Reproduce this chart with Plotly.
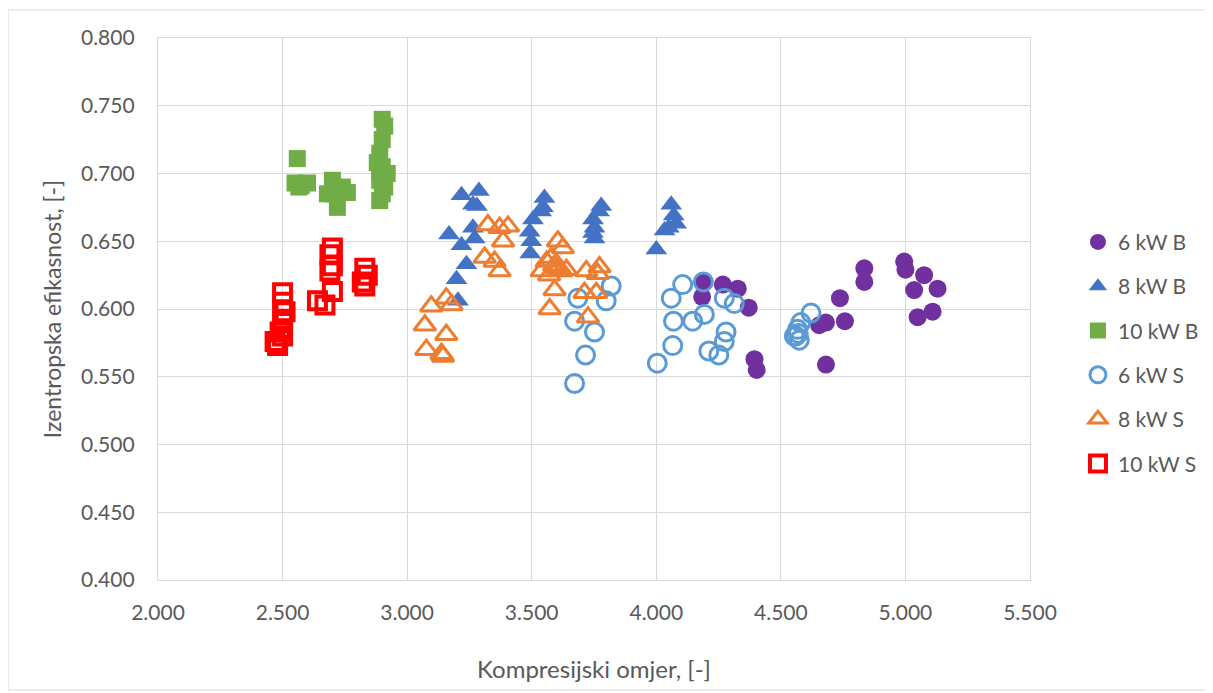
import plotly.graph_objects as go

# ---- data ----
b6_x = [4.184, 4.190, 4.267, 4.327, 4.371, 4.394, 4.403, 4.654, 4.681, 4.757, 4.737, 4.835, 4.835, 4.681,
        4.995, 5.000, 5.075, 5.035, 5.129, 5.049, 5.109]
b6_y = [0.609, 0.620, 0.618, 0.615, 0.601, 0.563, 0.555, 0.588, 0.590, 0.591, 0.608, 0.620, 0.630, 0.559,
        0.635, 0.629, 0.625, 0.614, 0.615, 0.594, 0.598]

b8_x = [3.218, 3.288, 3.264, 3.280, 3.168, 3.264, 3.271, 3.218, 3.238, 3.198, 3.204,
        3.551, 3.538, 3.505, 3.492, 3.498, 3.494, 3.545,
        3.779, 3.746, 3.752, 3.752, 3.746, 3.770,
        4.060, 4.070, 4.033, 4.080, 4.050, 4.000]
b8_y = [0.684, 0.687, 0.677, 0.676, 0.655, 0.660, 0.652, 0.647, 0.633, 0.622, 0.606,
        0.682, 0.672, 0.666, 0.657, 0.650, 0.641, 0.675,
        0.676, 0.666, 0.660, 0.652, 0.656, 0.672,
        0.677, 0.669, 0.658, 0.663, 0.660, 0.644]

b10_x = [2.559, 2.550, 2.575, 2.600, 2.565, 2.700, 2.740, 2.700, 2.720, 2.760, 2.680,
         2.900, 2.910, 2.900, 2.890, 2.900, 2.890, 2.920, 2.890, 2.910, 2.900, 2.890, 2.880]
b10_y = [0.711, 0.693, 0.691, 0.693, 0.690, 0.695, 0.690, 0.685, 0.675, 0.686, 0.685,
         0.740, 0.735, 0.725, 0.715, 0.705, 0.700, 0.700, 0.695, 0.690, 0.685, 0.680, 0.708]

s6_x = [3.819, 3.685, 3.799, 3.672, 3.752, 3.716, 3.672,
        4.106, 4.060, 4.189, 4.273, 4.313, 4.069, 4.146, 4.193, 4.280, 4.273, 4.066, 4.211, 4.251, 4.004,
        4.621, 4.580, 4.567, 4.554, 4.574, 4.570, 4.560]
s6_y = [0.617, 0.608, 0.606, 0.591, 0.583, 0.566, 0.545,
        0.618, 0.608, 0.620, 0.608, 0.604, 0.591, 0.591, 0.596, 0.583, 0.576, 0.573, 0.569, 0.566, 0.560,
        0.597, 0.590, 0.585, 0.580, 0.577, 0.582, 0.580]

s8_x = [3.324, 3.371, 3.405, 3.385, 3.311, 3.351, 3.371,
        3.605, 3.625, 3.540, 3.560, 3.580, 3.590, 3.600, 3.570, 3.620, 3.639, 3.592, 3.572,
        3.719, 3.772, 3.765, 3.712, 3.759, 3.726,
        3.097, 3.157, 3.178, 3.071, 3.157, 3.077, 3.138, 3.144]
s8_y = [0.662, 0.660, 0.661, 0.650, 0.638, 0.635, 0.628,
        0.650, 0.645, 0.628, 0.635, 0.638, 0.632, 0.630, 0.625, 0.628, 0.629, 0.614, 0.600,
        0.628, 0.631, 0.626, 0.612, 0.612, 0.594,
        0.602, 0.608, 0.603, 0.588, 0.581, 0.570, 0.567, 0.565]

s10_x = [2.700, 2.690, 2.700, 2.690, 2.700, 2.640, 2.670,
         2.830, 2.840, 2.820, 2.830,
         2.500, 2.500, 2.510, 2.500, 2.490, 2.500, 2.470, 2.480]
s10_y = [0.645, 0.640, 0.632, 0.628, 0.613, 0.606, 0.603,
         0.630, 0.625, 0.620, 0.617,
         0.612, 0.605, 0.598, 0.590, 0.583, 0.580, 0.576, 0.573]

x_ticks = [2.0, 2.5, 3.0, 3.5, 4.0, 4.5, 5.0, 5.5]
y_ticks = [0.40, 0.45, 0.50, 0.55, 0.60, 0.65, 0.70, 0.75, 0.80]

FONT = "Lato"
GRID = "#D9D9D9"
TXT = "#595959"

fig = go.Figure()

series = [
    ("6 kW B", b6_x, b6_y, "circle", "#7030A0", 18, 0),
    ("8 kW B", b8_x, b8_y, "triangle-up", "#4472C4", 19, 0),
    ("10 kW B", b10_x, b10_y, "square", "#70AD47", 17, 0),
    ("6 kW S", s6_x, s6_y, "circle-open", "#5B9BD5", 18, 3),
    ("8 kW S", s8_x, s8_y, "triangle-up-open", "#ED7D31", 19, 3),
    ("10 kW S", s10_x, s10_y, "square-open", "#FF0000", 17, 4),
]
for i, (name, xs, ys, sym, col, sz, lw) in enumerate(series):
    if lw:
        marker = dict(symbol=sym, size=sz, color=col, line=dict(color=col, width=lw))
    else:
        marker = dict(symbol=sym, size=sz, color=col, line=dict(width=0))
    fig.add_trace(go.Scatter(x=xs, y=ys, mode="markers", name=name, marker=marker,
                             legendgroup=f"g{i}"))

fig.update_layout(
    width=1205, height=685,
    margin=dict(l=150, r=183, t=30, b=113, autoexpand=False),
    paper_bgcolor="white", plot_bgcolor="white",
    font=dict(family=FONT, color=TXT, size=21),
    showlegend=True,
    legend=dict(x=1.055, y=0.661, xanchor="left", yanchor="top",
                font=dict(family=FONT, size=21, color=TXT),
                tracegroupgap=14, itemsizing="trace", bgcolor="rgba(0,0,0,0)"),
    shapes=[dict(type="rect", xref="paper", yref="paper",
                 x0=-0.172, x1=1.2076, y0=-0.203, y1=1.0517,
                 line=dict(color=GRID, width=1), layer="below")],
)
fig.update_xaxes(range=[2.0, 5.5], tickvals=x_ticks, ticktext=[f"{v:.3f}" for v in x_ticks],
                 automargin=False,
                 showgrid=True, gridcolor=GRID, gridwidth=1.3, zeroline=False,
                 showline=True, linecolor=GRID, linewidth=1.3, mirror=True,
                 ticks="", ticklabelstandoff=14,
                 tickfont=dict(family=FONT, size=21, color=TXT),
                 title=dict(text="Kompresijski omjer, [-]", standoff=37,
                            font=dict(family=FONT, size=24, color=TXT)))
fig.update_yaxes(range=[0.40, 0.80], tickvals=y_ticks, ticktext=[f"{v:.3f}" for v in y_ticks],
                 automargin=False,
                 showgrid=True, gridcolor=GRID, gridwidth=1.3, zeroline=False,
                 showline=True, linecolor=GRID, linewidth=1.3, mirror=True,
                 ticks="", ticklabelstandoff=18,
                 tickfont=dict(family=FONT, size=21, color=TXT),
                 title=dict(text="Izentropska efikasnost, [-]", standoff=12,
                            font=dict(family=FONT, size=23, color=TXT)))

fig.write_html("out.html")
